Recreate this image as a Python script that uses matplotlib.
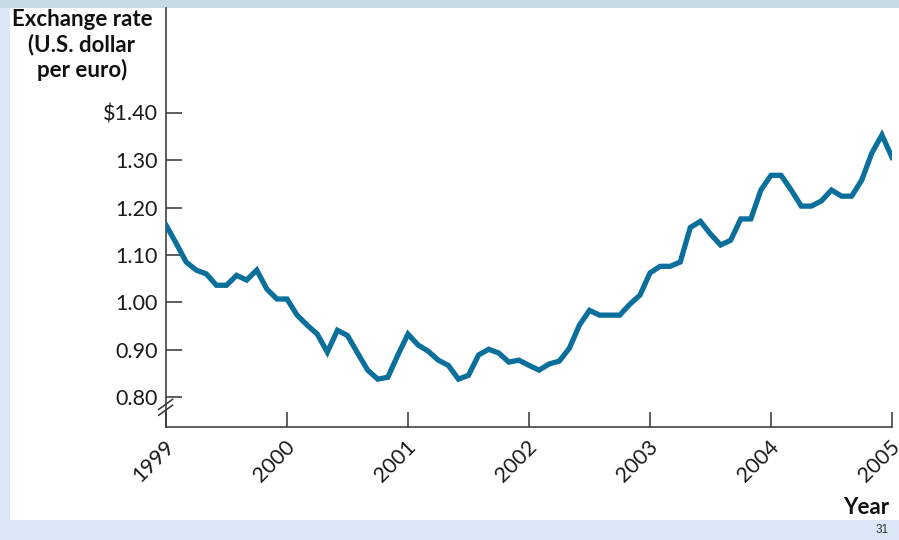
import numpy as np
import matplotlib
matplotlib.use("Agg")
import matplotlib.pyplot as plt
import matplotlib.transforms as mtransforms
from matplotlib.patches import Rectangle

# -----------------------------------------------------------------------------
# Data: monthly exchange rate, U.S. dollar per euro, Jan 1999 - Jan 2005
# -----------------------------------------------------------------------------
rate_1999 = [1.163, 1.125, 1.085, 1.068, 1.060, 1.036, 1.036, 1.057, 1.047, 1.068, 1.028, 1.007]
rate_2000 = [1.007, 0.973, 0.952, 0.933, 0.895, 0.941, 0.930, 0.893, 0.857, 0.838, 0.842, 0.889]
rate_2001 = [0.933, 0.910, 0.897, 0.878, 0.867, 0.838, 0.846, 0.889, 0.901, 0.893, 0.874, 0.878]
rate_2002 = [0.867, 0.857, 0.870, 0.876, 0.903, 0.952, 0.983, 0.973, 0.973, 0.973, 0.996, 1.015]
rate_2003 = [1.062, 1.076, 1.076, 1.085, 1.158, 1.171, 1.144, 1.121, 1.131, 1.176, 1.176, 1.237]
rate_2004 = [1.268, 1.268, 1.237, 1.203, 1.203, 1.214, 1.237, 1.224, 1.224, 1.258, 1.315, 1.353]
rate_2005 = [1.306]

rates = rate_1999 + rate_2000 + rate_2001 + rate_2002 + rate_2003 + rate_2004 + rate_2005
months = 1999 + np.arange(len(rates)) / 12

year_ticks = [1999, 2000, 2001, 2002, 2003, 2004, 2005]
rate_ticks = [0.80, 0.90, 1.00, 1.10, 1.20, 1.30, 1.40]
rate_labels = ['0.80', '0.90', '1.00', '1.10', '1.20', '1.30', '$1.40']

# -----------------------------------------------------------------------------
# Figure
# -----------------------------------------------------------------------------
plt.rcParams['font.family'] = ['Lato', 'DejaVu Sans']
W, H = 899, 540
fig = plt.figure(figsize=(W / 100, H / 100), dpi=100, facecolor='#dbe6f7')

# slide background: top strip and white panel
fig.patches.append(Rectangle((0, 1 - 8 / H), 1, 8 / H, transform=fig.transFigure,
                             facecolor='#c8dbe4', edgecolor='none', zorder=-2))
fig.patches.append(Rectangle((10 / W, 20 / H), 1 - 10 / W, 1 - 28 / H, transform=fig.transFigure,
                             facecolor='white', edgecolor='none', zorder=-2))

ax = fig.add_axes([166 / W, 1 - 427 / H, (892 - 166) / W, (427 - 8) / H])
ax.set_zorder(2)
ax.patch.set_alpha(0)

line_color = '#0b6f9c'
ax.plot(months, rates, color=line_color, lw=3.8, solid_joinstyle='miter', zorder=3)

ax.set_xlim(1999, 2005)
ax.set_ylim(0.737, 1.621)

for side in ['top', 'right']:
    ax.spines[side].set_visible(False)
for side in ['left', 'bottom']:
    ax.spines[side].set_color('#333333')
    ax.spines[side].set_linewidth(1.1)

ax.set_yticks(rate_ticks)
ax.set_yticklabels(rate_labels)
ax.set_xticks(year_ticks)
ax.set_xticklabels([str(y) for y in year_ticks], rotation=45, ha='right',
                   rotation_mode='anchor')

ax.tick_params(axis='y', direction='in', length=11.5, width=1.1, color='#333333',
               labelsize=15.5, pad=6, labelcolor='#1a1a1a')
ax.tick_params(axis='x', direction='in', length=11, width=1.1, color='#333333',
               labelsize=15.5, pad=7, labelcolor='#1a1a1a')

shift = mtransforms.ScaledTranslation(-0.02, 0, fig.dpi_scale_trans)
for lab in ax.get_xticklabels():
    lab.set_transform(lab.get_transform() + shift)

# axis break marks on the y axis
for dy in [0.0, 0.014]:
    ax.plot([-0.01, 0.009], [0.028 + dy, 0.052 + dy], transform=ax.transAxes,
            color='#333333', lw=1.1, clip_on=False, zorder=4)

# -----------------------------------------------------------------------------
# Text
# -----------------------------------------------------------------------------
fig.text(82 / W, 1 - 9 / H, 'Exchange rate\n(U.S. dollar\nper euro)', ha='center', va='top',
         fontsize=16, fontweight='bold', linespacing=1.2, color='#111111', zorder=5)
fig.text(889 / W, 1 - 507 / H, 'Year', ha='right', va='center', fontsize=16,
         fontweight='bold', color='#111111', zorder=5)
fig.text(889 / W, 1 - 530 / H, '31', ha='right', va='center', fontsize=8.5,
         color='#333333', family=['Liberation Sans', 'DejaVu Sans'], zorder=5)

fig.savefig('out.png', dpi=100, facecolor=fig.get_facecolor())
